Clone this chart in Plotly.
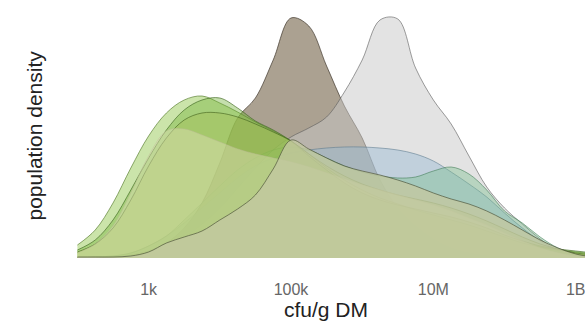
import plotly.graph_objects as go

# x grid in log10(cfu/g DM)
log_x = [2.0, 2.25, 2.5, 2.75, 3.0, 3.25, 3.5, 3.75, 4.0, 4.25, 4.5, 4.75, 5.0, 5.25, 5.5,
         5.75, 6.0, 6.25, 6.5, 6.75, 7.0, 7.25, 7.5, 7.75, 8.0, 8.25, 8.5, 8.75, 9.0, 9.25]

brown = [0, 0, 1, 3, 7, 15, 30, 55, 95, 140, 160, 198, 240, 232, 192, 152, 120, 78, 50, 32,
         19, 10, 5, 2, 1, 0, 0, 0, 0, 0]
lightgray = [0, 0, 1, 3, 6, 12, 21, 34, 50, 70, 90, 108, 121, 130, 141, 166, 198, 238, 239, 190,
             158, 134, 102, 71, 50, 34, 19, 7, 1, 0]
blue = [0, 1, 2, 5, 12, 22, 35, 50, 65, 80, 92, 100, 105, 108, 110, 111, 111, 110, 108, 104,
        97, 86, 74, 61, 45, 30, 17, 8, 3, 1]
teal = [0, 1, 2, 5, 12, 22, 38, 55, 72, 88, 100, 108, 111, 108, 100, 92, 86, 82, 80, 81,
        87, 91, 84, 68, 47, 35, 21, 10, 4, 1]
green_light = [13, 28, 55, 90, 122, 145, 158, 162, 155, 146, 136, 127, 117, 104, 90, 78, 68, 60, 54, 48,
               43, 38, 33, 27, 21, 15, 11, 8, 6, 4]
green_mid = [8, 18, 38, 68, 100, 128, 148, 158, 160, 150, 137, 128, 117, 102, 88, 75, 65, 58, 53, 49,
             45, 41, 36, 30, 23, 17, 12, 9, 7, 5]
green_olive = [6, 14, 30, 58, 92, 120, 138, 145, 145, 141, 134, 126, 117, 104, 92, 82, 74, 68, 63, 59,
               55, 50, 44, 37, 29, 21, 14, 9, 5, 3]
pale = [5, 14, 32, 65, 102, 127, 129, 123, 116, 109, 104, 100, 96, 91, 85, 79, 73, 68, 63, 58,
        53, 47, 40, 33, 25, 17, 10, 5, 2, 1]
khaki = [1, 1, 1, 2, 6, 15, 21, 27, 38, 49, 63, 89, 118, 109, 100, 92, 87, 83, 78, 72,
         65, 59, 54, 47, 38, 28, 18, 10, 4, 1]

tick_vals = [1e3, 1e5, 1e7, 1e9]
tick_text = ["1k", "100k", "10M", "1B"]

x_vals = [10 ** v for v in log_x]

series = [
    (brown, "rgba(120,103,78,0.62)", "rgba(60,50,40,0.85)"),
    (lightgray, "rgba(200,200,200,0.5)", "rgba(90,90,90,0.75)"),
    (blue, "rgba(150,185,210,0.45)", "rgba(90,120,140,0.7)"),
    (teal, "rgba(120,190,140,0.4)", "rgba(60,120,80,0.7)"),
    (green_light, "rgba(160,205,100,0.55)", "rgba(80,120,40,0.8)"),
    (green_mid, "rgba(110,175,50,0.4)", "rgba(60,100,30,0.8)"),
    (green_olive, "rgba(165,190,85,0.4)", "rgba(70,100,30,0.8)"),
    (pale, "rgba(225,225,185,0.45)", "rgba(190,190,150,0.6)"),
    (khaki, "rgba(195,200,160,0.8)", "rgba(70,75,50,0.8)"),
]

fig = go.Figure()
for ys, fc, lc in series:
    fig.add_trace(go.Scatter(
        x=x_vals, y=ys, mode="lines", fill="tozeroy", fillcolor=fc,
        line=dict(color=lc, width=0.8, shape="spline", smoothing=1.0),
        showlegend=False, hoverinfo="skip"))

fig.update_layout(
    width=585, height=326,
    margin=dict(l=76, r=0, t=3, b=68),
    paper_bgcolor="white", plot_bgcolor="white",
    font=dict(family="Liberation Sans, Arial, sans-serif"),
    xaxis=dict(type="log", range=[1.98, 9.13], tickvals=tick_vals, ticktext=tick_text,
               showgrid=False, zeroline=False, showline=False, ticks="",
               tickfont=dict(size=16, color="#666666"), ticklabelstandoff=20,
               ticklabeloverflow="allow"),
    yaxis=dict(range=[0, 255], showgrid=False, zeroline=False, showline=False,
               showticklabels=False, ticks=""),
    annotations=[
        dict(text="population density", xref="paper", yref="paper", x=0, y=0.5,
             xanchor="center", yanchor="middle", textangle=-90, showarrow=False,
             xshift=-42, yshift=-5, font=dict(size=21, color="#222222")),
        dict(text="cfu/g DM", xref="paper", yref="paper", x=0.5, y=0,
             xanchor="center", yanchor="middle", showarrow=False,
             xshift=-5, yshift=-51, font=dict(size=21, color="#222222")),
    ],
)

fig.write_html("out.html")
